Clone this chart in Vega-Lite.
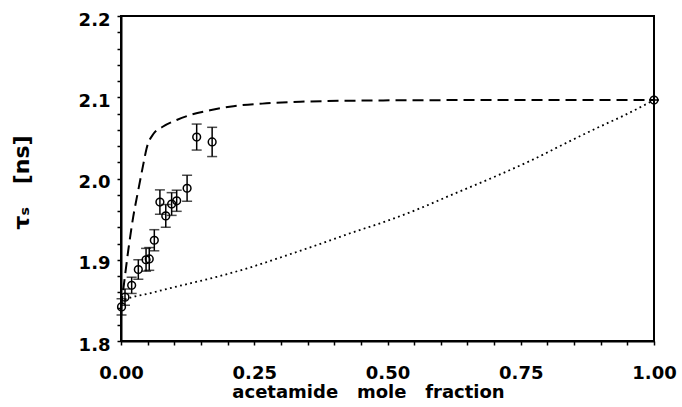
{
  "$schema": "https://vega.github.io/schema/vega-lite/v6.json",
  "width": 533,
  "height": 325,
  "autosize": {"type": "none"},
  "padding": {"left": 121, "top": 16, "right": 28, "bottom": 66},
  "background": "white",
  "config": {
    "view": {"stroke": "black", "strokeWidth": 2},
    "font": "DejaVu Sans"
  },
  "datasets": {
    "dashed": [
      {"x": 0.0, "y": 1.842}, {"x": 0.004, "y": 1.862}, {"x": 0.0137, "y": 1.912},
      {"x": 0.023, "y": 1.953}, {"x": 0.0325, "y": 1.986}, {"x": 0.042, "y": 2.018},
      {"x": 0.048, "y": 2.037}, {"x": 0.061, "y": 2.055}, {"x": 0.079, "y": 2.064},
      {"x": 0.1045, "y": 2.072}, {"x": 0.129, "y": 2.078}, {"x": 0.167, "y": 2.084},
      {"x": 0.211, "y": 2.089}, {"x": 0.273, "y": 2.0925}, {"x": 0.336, "y": 2.0945},
      {"x": 0.423, "y": 2.0957}, {"x": 0.55, "y": 2.0963}, {"x": 0.7, "y": 2.0966},
      {"x": 0.85, "y": 2.0966}, {"x": 1.0, "y": 2.0966}
    ],
    "dotted": [
      {"x": 0.0, "y": 1.846}, {"x": 0.0075, "y": 1.8505}, {"x": 0.054, "y": 1.8587},
      {"x": 0.117, "y": 1.869}, {"x": 0.18, "y": 1.879}, {"x": 0.242, "y": 1.8905},
      {"x": 0.3045, "y": 1.904}, {"x": 0.367, "y": 1.918}, {"x": 0.43, "y": 1.9326},
      {"x": 0.5, "y": 1.948}, {"x": 0.56, "y": 1.963}, {"x": 0.617, "y": 1.979},
      {"x": 0.711, "y": 2.005}, {"x": 0.7735, "y": 2.0235}, {"x": 0.836, "y": 2.044},
      {"x": 0.899, "y": 2.064}, {"x": 0.942, "y": 2.077}, {"x": 1.0, "y": 2.0966}
    ],
    "points": [
      {"x": 0.001, "y": 1.842, "err": 0.010},
      {"x": 0.0075, "y": 1.854, "err": 0.010},
      {"x": 0.020, "y": 1.8685, "err": 0.010},
      {"x": 0.0325, "y": 1.888, "err": 0.012},
      {"x": 0.047, "y": 1.900, "err": 0.014},
      {"x": 0.053, "y": 1.901, "err": 0.014},
      {"x": 0.0625, "y": 1.924, "err": 0.013},
      {"x": 0.073, "y": 1.971, "err": 0.015},
      {"x": 0.084, "y": 1.954, "err": 0.014},
      {"x": 0.095, "y": 1.9686, "err": 0.014},
      {"x": 0.1045, "y": 1.9726, "err": 0.013},
      {"x": 0.124, "y": 1.988, "err": 0.016},
      {"x": 0.142, "y": 2.051, "err": 0.016},
      {"x": 0.171, "y": 2.045, "err": 0.018},
      {"x": 1.0, "y": 2.0966, "err": 0.0}
    ]
  },
  "encoding": {
    "x": {
      "field": "x",
      "type": "quantitative",
      "scale": {"domain": [0, 1], "nice": false, "zero": false},
      "axis": {
        "values": [0, 0.05, 0.1, 0.15, 0.2, 0.25, 0.3, 0.35, 0.4, 0.45, 0.5, 0.55, 0.6, 0.65, 0.7, 0.75, 0.8, 0.85, 0.9, 0.95, 1.0],
        "labelExpr": "abs(datum.value*4 - round(datum.value*4)) < 0.001 ? format(datum.value, '.2f') : ''",
        "tickSize": 4,
        "tickColor": "black",
        "tickWidth": 1.5,
        "domainColor": "black",
        "domainWidth": 2,
        "grid": false,
        "labelFont": "DejaVu Sans",
        "labelFontWeight": "bold",
        "labelFontSize": 18,
        "labelColor": "black",
        "labelPadding": 19,
        "labelFlush": false,
        "labelOverlap": false,
        "title": "acetamide\u00a0\u00a0\u00a0mole\u00a0\u00a0\u00a0fraction",
        "titleFont": "DejaVu Sans",
        "titleFontWeight": "bold",
        "titleFontSize": 18,
        "titleColor": "black",
        "titleX": 247,
        "titleY": 56,
        "titleAlign": "center",
        "titleBaseline": "alphabetic"
      }
    },
    "y": {
      "field": "y",
      "type": "quantitative",
      "scale": {"domain": [1.8, 2.2], "nice": false, "zero": false},
      "axis": {
        "values": [1.8, 1.82, 1.84, 1.86, 1.88, 1.9, 1.92, 1.94, 1.96, 1.98, 2.0, 2.02, 2.04, 2.06, 2.08, 2.1, 2.12, 2.14, 2.16, 2.18, 2.2],
        "labelExpr": "abs(datum.value*10 - round(datum.value*10)) < 0.001 ? format(datum.value, '.1f') : ''",
        "tickSize": 4,
        "tickColor": "black",
        "tickWidth": 1.5,
        "domainColor": "black",
        "domainWidth": 2,
        "grid": false,
        "labelFont": "DejaVu Sans",
        "labelFontWeight": "bold",
        "labelFontSize": 18,
        "labelColor": "black",
        "labelPadding": 7,
        "labelOffset": 4,
        "labelFlush": false,
        "labelOverlap": false,
        "labelBound": false,
        "title": "τₛ\u00a0\u00a0\u00a0[ns]",
        "titleFont": "DejaVu Sans",
        "titleFontWeight": "bold",
        "titleFontSize": 22,
        "titleColor": "black",
        "titleX": -100,
        "titleY": 166,
        "titleAngle": -90,
        "titleAlign": "center",
        "titleBaseline": "middle"
      }
    }
  },
  "layer": [
    {
      "data": {"name": "dashed"},
      "mark": {"type": "line", "color": "black", "strokeWidth": 2, "strokeDash": [11, 6], "interpolate": "monotone", "clip": true}
    },
    {
      "data": {"name": "dotted"},
      "mark": {"type": "line", "color": "black", "strokeWidth": 1.8, "strokeDash": [1.8, 3.4], "interpolate": "monotone", "clip": true}
    },
    {
      "data": {"name": "points"},
      "mark": {
        "type": "errorbar",
        "ticks": {"size": 10, "thickness": 1.5, "color": "black"},
        "rule": {"strokeWidth": 1.5, "color": "black"}
      },
      "encoding": {
        "yError": {"field": "err"}
      }
    },
    {
      "data": {"name": "points"},
      "mark": {"type": "point", "shape": "circle", "filled": false, "stroke": "black", "strokeWidth": 1.5, "size": 60, "opacity": 1}
    }
  ]
}
